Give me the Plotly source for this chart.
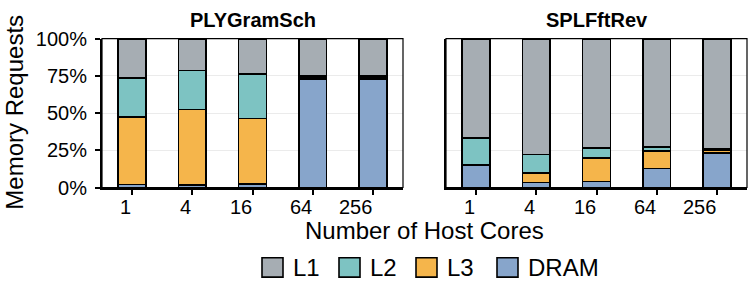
import plotly.graph_objects as go

cores = ["1", "4", "16", "64", "256"]
panels = ["PLYGramSch", "SPLFftRev"]
levels = ["L1", "L2", "L3", "DRAM"]
colors = {"L1": "#a6adb3", "L2": "#7dc3c2", "L3": "#f5b54b", "DRAM": "#87a5cb"}

# fractions of memory requests
ply_dram = [0.02, 0.015, 0.025, 0.725, 0.725]
ply_l3 = [0.455, 0.51, 0.44, 0.012, 0.01]
ply_l2 = [0.262, 0.262, 0.297, 0.013, 0.013]
ply_l1 = [0.263, 0.213, 0.238, 0.25, 0.252]

spl_dram = [0.15, 0.035, 0.04, 0.127, 0.233]
spl_l3 = [0.0, 0.062, 0.16, 0.118, 0.02]
spl_l2 = [0.182, 0.125, 0.065, 0.029, 0.007]
spl_l1 = [0.668, 0.778, 0.735, 0.726, 0.74]

data = {
    "PLYGramSch": {"L1": ply_l1, "L2": ply_l2, "L3": ply_l3, "DRAM": ply_dram},
    "SPLFftRev": {"L1": spl_l1, "L2": spl_l2, "L3": spl_l3, "DRAM": spl_dram},
}

W, H = 750, 290
FONT = "Liberation Sans, Arial, Helvetica, sans-serif"

def px(x):
    return x / W

def py(y):
    return 1 - y / H

domains = [(px(102), px(403)), (px(446), px(747))]
ydom = (py(191), py(30))

fig = go.Figure()
stack_order = ["DRAM", "L3", "L2", "L1"]
for i, p in enumerate(panels):
    xa = "x" if i == 0 else "x2"
    ya = "y" if i == 0 else "y2"
    for lv in stack_order:
        fig.add_trace(go.Bar(
            x=cores, y=data[p][lv], name=lv, xaxis=xa, yaxis=ya,
            marker=dict(color=colors[lv], line=dict(color="black", width=1.6)),
            width=0.46, showlegend=False,
        ))

axis_common = dict(showline=True, linecolor="black", linewidth=2, ticks="outside",
                   ticklen=5, tickcolor="black", tickwidth=1.5)
fig.update_layout(
    width=W, height=H, margin=dict(l=0, r=0, t=0, b=0),
    paper_bgcolor="white", plot_bgcolor="white", barmode="stack",
    font=dict(family=FONT, color="black", size=20),
    xaxis=dict(domain=domains[0], type="category", range=[-0.5, 4.5],
               categoryorder="array", categoryarray=cores,
               tickmode="array", tickvals=cores,
               showticklabels=False, showgrid=False, anchor="y", **axis_common),
    xaxis2=dict(domain=domains[1], type="category", range=[-0.5, 4.5],
                categoryorder="array", categoryarray=cores,
                tickmode="array", tickvals=cores,
                showticklabels=False, showgrid=False, anchor="y2", **axis_common),
    yaxis=dict(domain=ydom, range=[0, 1], tickvals=[0, 0.25, 0.5, 0.75, 1],
               tickformat=".0%", showgrid=True, gridcolor="#ebebeb", gridwidth=1.2,
               tickfont=dict(size=20), anchor="x", ticklabelstandoff=4,
               zeroline=False, **axis_common),
    yaxis2=dict(domain=ydom, range=[0, 1], tickvals=[0, 0.25, 0.5, 0.75, 1],
                showticklabels=False, showgrid=True, gridcolor="#ebebeb", gridwidth=1.2,
                anchor="x2", zeroline=False, showline=True, linecolor="black",
                linewidth=2, ticks=""),
    showlegend=False,
)

shapes = []
annotations = []
for i, p in enumerate(panels):
    d0, d1 = domains[i]
    # thin frame on top/right
    shapes.append(dict(type="rect", xref="paper", yref="paper", x0=d0, x1=d1,
                       y0=ydom[0], y1=ydom[1], line=dict(color="black", width=1.2),
                       layer="above"))
    annotations.append(dict(text=f"<b>{p}</b>", xref="paper", yref="paper",
                            x=(d0 + d1) / 2, y=py(10), showarrow=False,
                            font=dict(size=20), xanchor="center", yanchor="middle"))
    xr = "x" if i == 0 else "x2"
    for k, c in enumerate(cores):
        annotations.append(dict(text=c, xref=xr, yref="paper", x=k, y=py(212),
                                xanchor="right", yanchor="middle", showarrow=False,
                                xshift=1, font=dict(size=20)))

annotations.append(dict(text="Memory Requests", xref="paper", yref="paper",
                        x=px(15), y=py(110), textangle=-90, showarrow=False,
                        xanchor="center", yanchor="middle", font=dict(size=24)))
annotations.append(dict(text="Number of Host Cores", xref="paper", yref="paper",
                        x=px(424), y=py(238), showarrow=False,
                        xanchor="center", yanchor="middle", font=dict(size=24)))

# manual legend
leg_x = [262, 339, 416, 497]
for lv, x0 in zip(levels, leg_x):
    shapes.append(dict(type="rect", xref="paper", yref="paper",
                       x0=px(x0), x1=px(x0 + 21), y0=py(288), y1=py(267),
                       fillcolor=colors[lv], line=dict(color="black", width=1.6)))
    annotations.append(dict(text=lv, xref="paper", yref="paper", x=px(x0 + 29),
                            y=py(277.5), xanchor="left", yanchor="middle",
                            showarrow=False, font=dict(size=24)))

fig.update_layout(shapes=shapes, annotations=annotations)
fig.write_html("out.html")
